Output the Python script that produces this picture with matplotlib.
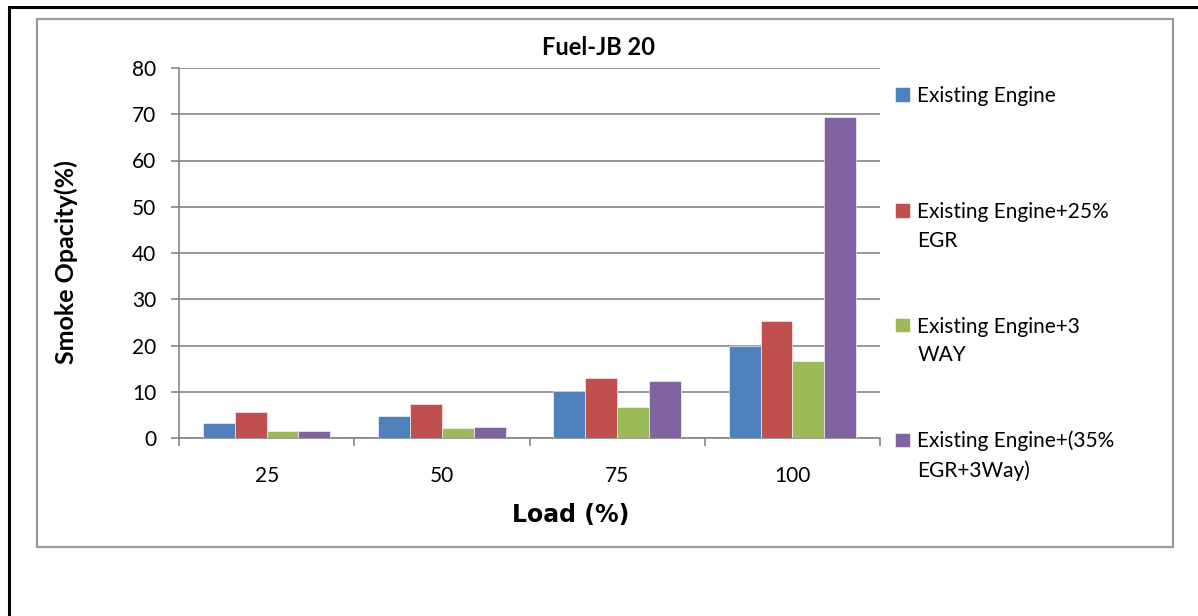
import numpy as np
import matplotlib
matplotlib.use('Agg')
import matplotlib.pyplot as plt
from matplotlib.patches import Rectangle
from matplotlib.legend_handler import HandlerPatch

plt.rcParams['font.family'] = ['Lato', 'DejaVu Sans']

# Carga do motor (%) e opacidade da fumaça (%)
loads = ['25', '50', '75', '100']
existing = [3.3, 4.8, 10.2, 19.9]
egr25 = [5.6, 7.4, 12.9, 25.2]
three_way = [1.5, 2.2, 6.7, 16.6]
egr35_three_way = [1.6, 2.4, 12.3, 69.5]

series = [existing, egr25, three_way, egr35_three_way]
labels = ['Existing Engine', 'Existing Engine+25%\nEGR',
          'Existing Engine+3\nWAY', 'Existing Engine+(35%\nEGR+3Way)']
colors = ['#4F81BD', '#C0504D', '#9BBB59', '#8064A2']

W, H = 1198, 616
px = lambda v: v / W
py = lambda v: 1 - v / H

fig = plt.figure(figsize=(W / 100, H / 100), dpi=100)
ax = fig.add_axes([px(179), py(438), (880 - 179) / W, (438 - 68) / H])

# moldura externa (preta) e área do gráfico (cinza)
fig.add_artist(Rectangle((px(9), -0.1), 1.2, py(7) + 0.1, transform=fig.transFigure,
                         fill=False, edgecolor='black', linewidth=2.2, clip_on=False))
fig.add_artist(Rectangle((px(37), py(547)), (1173 - 37) / W, (547 - 19) / H,
                         transform=fig.transFigure, fill=False, edgecolor='#9a9a9a',
                         linewidth=1.6))

x = np.arange(len(loads))
width = 1 / 5.5
bars = []
for i, (vals, lab, c) in enumerate(zip(series, labels, colors)):
    b = ax.bar(x + (i - 1.5) * width, vals, width, color=c, label=lab,
               edgecolor='white', linewidth=0.4, zorder=3)
    bars.append(b)

ax.set_xlim(-0.5, len(loads) - 0.5)
ax.set_ylim(0, 80)
ax.set_yticks(range(0, 81, 10))
ax.set_xticks(x)
ax.set_xticklabels(loads)
ax.set_xticks(np.arange(-0.5, len(loads), 1), minor=True)
ax.tick_params(axis='x', which='major', length=0, pad=20, labelsize=15)
ax.tick_params(axis='x', which='minor', length=6, width=1.2, color='#868686', direction='out')
ax.tick_params(axis='y', length=5.5, width=1.2, color='#868686', direction='out', pad=11,
               labelsize=15)
ax.grid(axis='y', color='#868686', linewidth=1.2, zorder=0)
for s in ['top', 'right']:
    ax.spines[s].set_visible(False)
for s in ['left', 'bottom']:
    ax.spines[s].set_color('#868686')
    ax.spines[s].set_linewidth(1.2)

fig.text(px(542), py(55), 'Fuel-JB 20', fontsize=17, fontweight='bold',
         ha='left', va='baseline')
fig.text(px(571), py(515), 'Load (%)', fontsize=17, fontweight='bold',
         family='DejaVu Sans', ha='center', va='center')
ax.set_ylabel('Smoke Opacity(%)', fontsize=18, fontweight='bold')
ax.yaxis.set_label_coords(px(66), py(262), transform=fig.transFigure)
ax.yaxis.label.set_va('center')


class FirstLineHandler(HandlerPatch):
    # desloca o quadradinho para a primeira linha do rótulo
    def __init__(self, shift=0, **kw):
        super().__init__(**kw)
        self.shift = shift

    def create_artists(self, legend, orig_handle, xdescent, ydescent, width, height,
                       fontsize, trans):
        p = Rectangle((-xdescent, -ydescent + self.shift), width, height)
        self.update_prop(p, orig_handle, legend)
        p.set_transform(trans)
        return [p]


# cada item da legenda posicionado separadamente
centers = [96, 226.5, 341, 456]
for b, lab, yc in zip(bars, labels, centers):
    shift = 11.9 if '\n' in lab else 0
    h = b.patches[0]
    leg = fig.legend([h], [lab], loc='center left', bbox_to_anchor=(px(895), py(yc)),
                     frameon=False, fontsize=15, handlelength=0.72, handleheight=0.7,
                     handletextpad=0.35, borderpad=0, borderaxespad=0,
                     handler_map={h: FirstLineHandler(shift)})
    for t in leg.get_texts():
        t.set_linespacing(1.55)

fig.savefig('out.png', dpi=100)
